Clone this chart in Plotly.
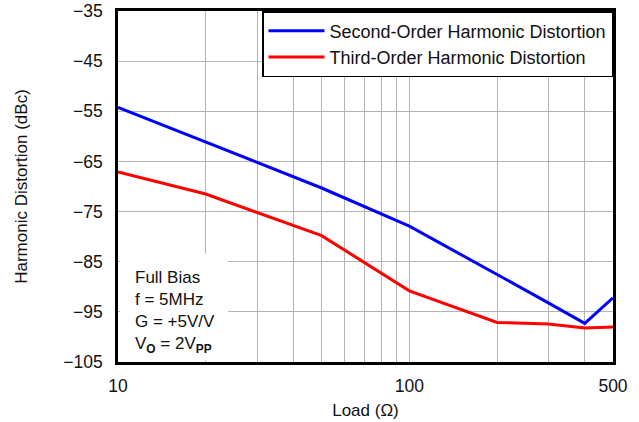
import plotly.graph_objects as go

load = [10, 20, 50, 100, 200, 300, 400, 500]
hd2 = [-54.2, -61.1, -70.3, -77.9, -87.5, -93.2, -97.3, -92.2]
hd3 = [-67.1, -71.5, -79.8, -90.8, -97.1, -97.4, -98.2, -98.0]

x_ticks = [10, 100, 500]
x_labels = ['10', '100', '500']
x_minor = [20, 30, 40, 50, 60, 70, 80, 90, 200, 300, 400]
y_ticks = [-105, -95, -85, -75, -65, -55, -45, -35]
y_labels = ['\u2212105', '\u221295', '\u221285', '\u221275', '\u221265', '\u221255', '\u221245', '\u221235']

fig = go.Figure()
fig.add_trace(go.Scatter(x=load, y=hd2, mode='lines', name='Second-Order Harmonic Distortion',
                         line=dict(color='#0000ff', width=3)))
fig.add_trace(go.Scatter(x=load, y=hd3, mode='lines', name='Third-Order Harmonic Distortion',
                         line=dict(color='#ff0000', width=3)))

font_family = 'Liberation Sans, Arial, sans-serif'

fig.update_layout(
    width=639, height=422,
    margin=dict(l=118, r=26, t=11, b=60),
    paper_bgcolor='white', plot_bgcolor='white',
    font=dict(family=font_family, size=17.5, color='#111111'),
    showlegend=True,
    legend=dict(x=1, y=1, xanchor='right', yanchor='top',
                bgcolor='white', bordercolor='black', borderwidth=1.5,
                font=dict(size=18), itemwidth=56, tracegroupgap=0,
                traceorder='normal'),
    xaxis=dict(type='log', range=[1, 2.69897],
               tickvals=x_ticks, ticktext=x_labels, ticks='',
               showgrid=True, gridcolor='#b4b4b4', gridwidth=1,
               minor=dict(tickvals=x_minor, showgrid=True, gridcolor='#b4b4b4', gridwidth=1, ticks=''),
               showline=True, linecolor='black', linewidth=2.5, mirror=True,
               title=dict(text='Load (\u03a9)', font=dict(size=17), standoff=10),
               tickfont=dict(size=17.5), ticklabelstandoff=6, zeroline=False,
               automargin=False),
    yaxis=dict(range=[-105, -35], tickvals=y_ticks, ticktext=y_labels, ticks='',
               showgrid=True, gridcolor='#b4b4b4', gridwidth=1,
               showline=True, linecolor='black', linewidth=2.5, mirror=True,
               title=dict(text='Harmonic Distortion (dBc)', font=dict(size=17), standoff=32),
               tickfont=dict(size=17.5), ticklabelstandoff=9, zeroline=False,
               automargin=False),
)

fig.add_shape(type='rect', xref='paper', yref='paper', x0=0.004, x1=0.222, y0=0.004, y1=0.31,
              fillcolor='white', line=dict(width=0), layer='above')
fig.add_annotation(xref='paper', yref='paper', x=0.03, y=0.011, xanchor='left', yanchor='bottom',
                   align='left', showarrow=False,
                   text='Full Bias<br>f = 5MHz<br>G = +5V/V<br>V<sub><b>O</b></sub> = 2V<sub><b>PP</b></sub>',
                   font=dict(size=17, family=font_family))

fig.write_html('out.html', config={'displayModeBar': False},
               post_script="document.body.style.margin='0';")
